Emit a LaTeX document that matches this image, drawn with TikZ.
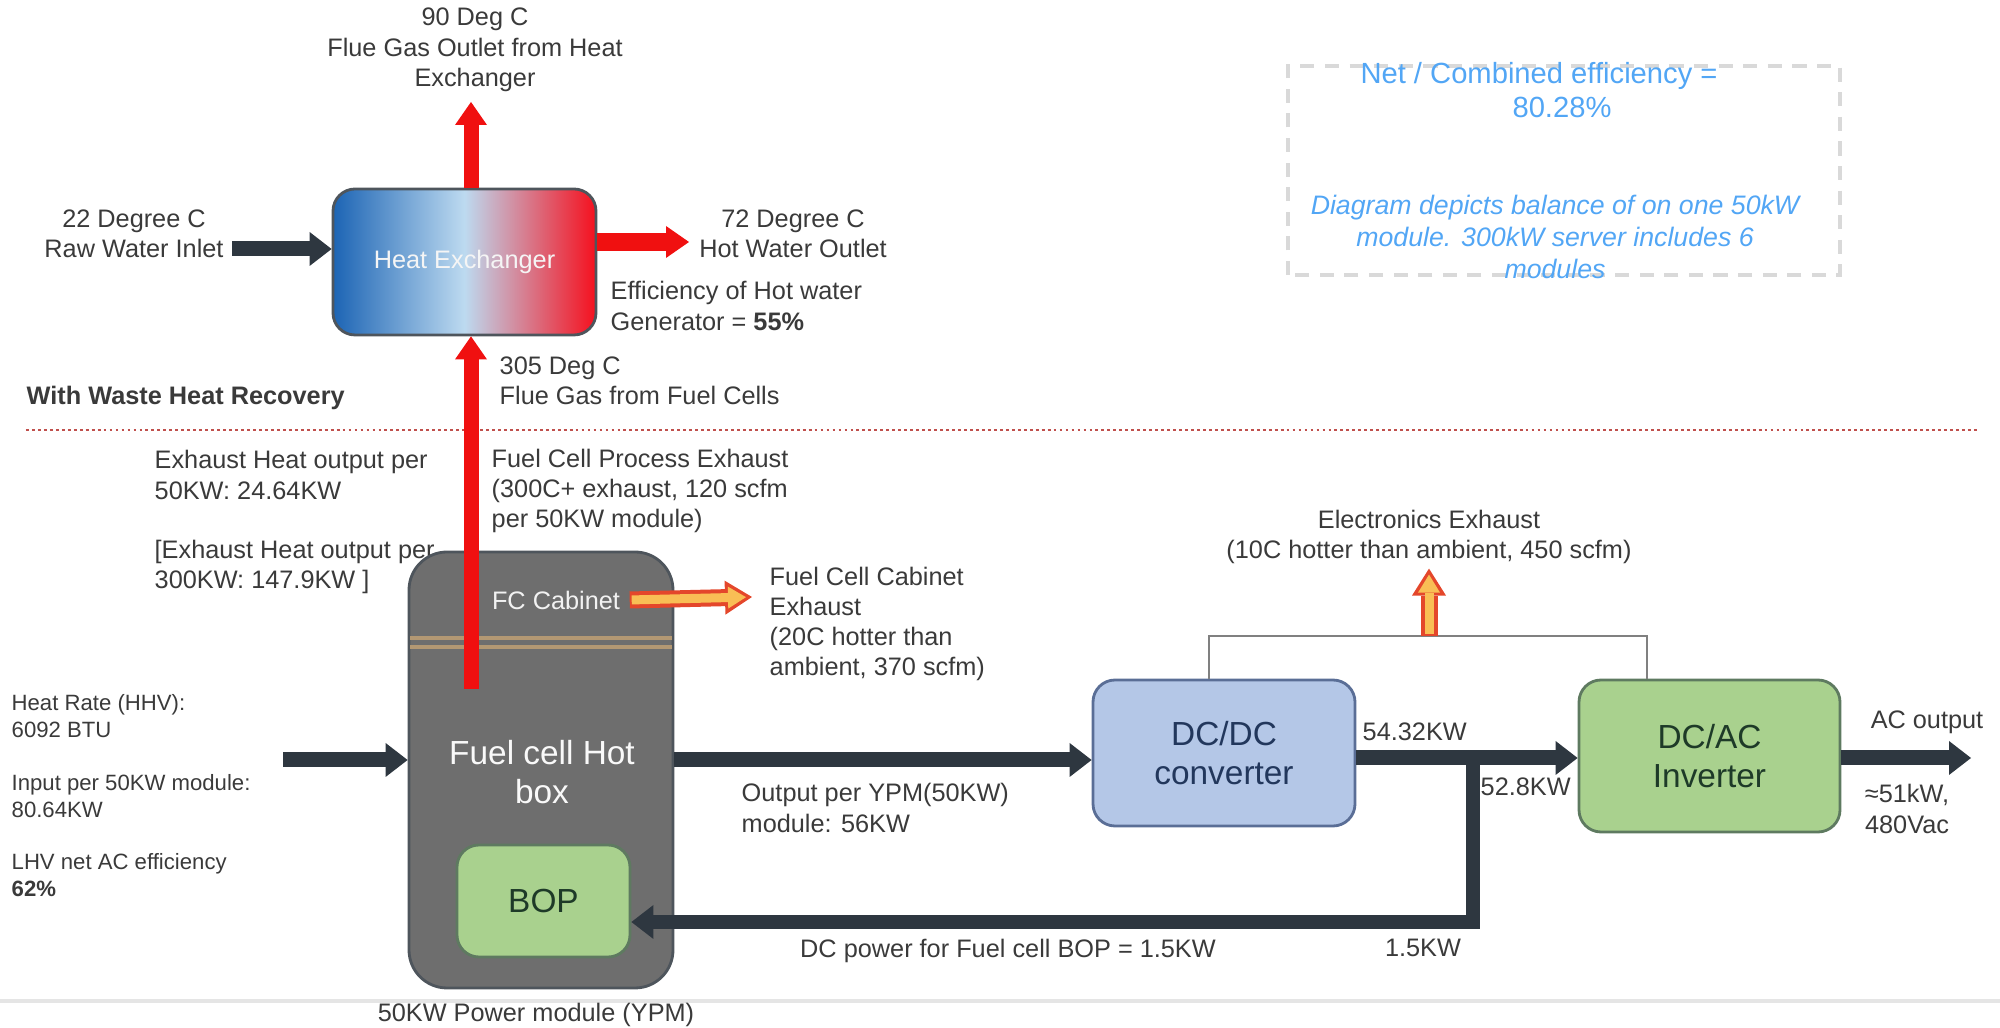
\documentclass[tikz,border=0pt]{standalone}
\usepackage{fontspec}
\setmainfont{Liberation Sans}
\usepackage{tikz}
\usetikzlibrary{arrows.meta, positioning, calc}

\definecolor{txt}{HTML}{3A3A3A}
\definecolor{flow}{HTML}{2E3740}
\definecolor{hot}{HTML}{F01010}
\definecolor{hxblue}{HTML}{1C64B4}
\definecolor{hxmid}{HTML}{BDDAF0}
\definecolor{hxred}{HTML}{F5101E}
\definecolor{boxgray}{HTML}{6E6E6E}
\definecolor{boxedge}{HTML}{4E555C}
\definecolor{cabline}{HTML}{B39873}
\definecolor{bopgreen}{HTML}{A9D18E}
\definecolor{greenedge}{HTML}{5E7A60}
\definecolor{greentext}{HTML}{1E3A28}
\definecolor{dcblue}{HTML}{B4C7E7}
\definecolor{blueedge}{HTML}{5A6E96}
\definecolor{bluetext}{HTML}{22375C}
\definecolor{exhedge}{HTML}{E4472B}
\definecolor{exhfill}{HTML}{F9BE55}
\definecolor{sky}{HTML}{52A6F5}
\definecolor{sepred}{HTML}{C0504D}

\begin{document}
\begin{tikzpicture}[
    lbl/.style={font=\fontsize{7.2}{8.6}\selectfont, text=txt, inner sep=0pt, align=left},
    clbl/.style={lbl, align=center},
    small/.style={font=\fontsize{6.3}{7.6}\selectfont, text=txt, inner sep=0pt, align=left},
    unit/.style={draw, rounded corners=0.22cm, line width=0.8pt, inner sep=0pt, align=center, font=\fontsize{9.5}{11.3}\selectfont},
    flowarrow/.style={draw=flow, line width=0.15cm, -{Triangle[length=0.22cm, width=0.34cm, line width=0pt]}},
    hotarrow/.style={draw=hot, line width=0.15cm, -{Triangle[length=0.23cm, width=0.32cm, line width=0pt]}},
    exharrow/.style={draw=exhedge, line width=0.17cm, -{Triangle[length=0.27cm, width=0.34cm, line width=0pt]},
        postaction={draw=exhfill, line width=0.09cm, shorten >=0.06cm, shorten <=0.02cm, -{Triangle[length=0.18cm, width=0.22cm, line width=0pt]}}},
    notebox/.style={draw=gray!30, line width=1.1pt, dash pattern=on 4pt off 3pt}
]
\useasboundingbox (0,0) rectangle (20,10.28);

\node[unit, left color=hxblue, right color=hxred, middle color=hxmid, draw=boxedge, text=white!92!gray,
    minimum width=2.63cm, minimum height=1.46cm, font=\fontsize{7.2}{8.6}\selectfont] (hx) at (4.645,7.66) {Heat Exchanger};

\coordinate (flueOut) at (4.71,9.26);
\coordinate (rawIn) at (2.32,7.79);
\coordinate (hwOut) at (6.89,7.86);
\coordinate (flueSrc) at (4.71,3.39);

\node[clbl] (flueOutLbl) at (4.75,9.78) {90 Deg C\\Flue Gas Outlet from Heat\\Exchanger};
\node[clbl] (rawLbl) at (1.34,7.94) {22 Degree C\\Raw Water Inlet};
\node[clbl] (hwLbl) at (7.93,7.94) {72 Degree C\\Hot Water Outlet};
\node[lbl, anchor=west] (effLbl) at (6.10,7.22) {Efficiency of Hot water\\Generator = \textbf{55\%}};
\node[lbl, anchor=west] (flueInLbl) at (4.99,6.47) {305 Deg C\\Flue Gas from Fuel Cells};
\node[lbl, anchor=west, font=\bfseries\fontsize{7.2}{8.6}\selectfont] (wasteLbl) at (0.26,6.30) {With Waste Heat Recovery};

\draw[flowarrow] (rawIn) -- (rawIn -| hx.west);
\draw[hotarrow, line width=0.18cm] (hx.east |- hwOut) -- (hwOut);
\draw[hotarrow] (hx.north -| flueOut) -- (flueOut);

\draw[sepred, line width=0.8pt, dash pattern=on 0.8pt off 0.9pt] (0.26,5.98) -- (19.77,5.98);

\draw[notebox] (12.88,7.53) rectangle (18.40,9.62);
\node[align=center, inner sep=0pt, text=sky, font=\fontsize{8.3}{9.6}\selectfont] (effNet) at (15.62,9.38) {Net / Combined efficiency =\hspace*{0.46cm}\\80.28\%};
\node[align=center, inner sep=0pt, text=sky, font=\itshape\fontsize{7.6}{9.1}\selectfont] (note) at (15.55,7.91)
    {Diagram depicts balance of on one 50kW\\module. 300kW server includes 6\\modules};

\node[lbl, anchor=west] (exh50) at (1.54,5.53) {Exhaust Heat output per\\50KW: 24.64KW};
\node[lbl, anchor=west] (exh300) at (1.54,4.61) {[Exhaust Heat output per\\300KW: 147.9KW ]};
\node[lbl, anchor=west] (procLbl) at (4.91,5.37) {Fuel Cell Process Exhaust\\(300C+ exhaust, 120 scfm\\per 50KW module)};

\node[unit, fill=boxgray, draw=boxedge, rounded corners=0.38cm, minimum width=2.64cm, minimum height=4.36cm] (hotbox) at (5.41,2.58) {};
\draw[cabline, line width=1.2pt] (4.10,3.90) -- (6.72,3.90);
\draw[cabline, line width=1.2pt] (4.10,3.81) -- (6.72,3.81);
\node[lbl, text=white!90!gray] (cab) at (5.56,4.28) {FC Cabinet};
\node[clbl, text=white!95!gray, font=\fontsize{9.5}{11.3}\selectfont] (hotLbl) at (5.42,2.56) {Fuel cell Hot\\box};
\node[unit, fill=bopgreen, draw=greenedge, text=greentext, minimum width=1.73cm, minimum height=1.12cm] (bop) at (5.435,1.27) {BOP};

\draw[hotarrow] (flueSrc) -- (flueSrc |- hx.south);

\node[lbl, anchor=west] (cabex) at (7.69,4.04) {Fuel Cell Cabinet\\Exhaust\\(20C hotter than\\ambient, 370 scfm)};
\draw[exharrow] ([xshift=0.09cm]cab.east) -- ([xshift=-0.17cm,yshift=0.03cm]cabex.west |- cab.east);

\node[small, anchor=west] (hhv) at (0.11,3.12) {Heat Rate (HHV):\\6092 BTU};
\node[small, anchor=west] (input) at (0.11,2.32) {Input per 50KW module:\\80.64KW};
\node[small, anchor=west] (lhv) at (0.11,1.53) {LHV net AC efficiency\\\textbf{62\%}};

\node[unit, fill=dcblue, draw=blueedge, text=bluetext, minimum width=2.62cm, minimum height=1.46cm] (dcdc) at (12.24,2.75) {DC/DC\\converter};
\node[unit, fill=bopgreen, draw=greenedge, text=greentext, minimum width=2.61cm, minimum height=1.52cm] (dcac) at (17.095,2.72) {DC/AC\\Inverter};

\coordinate (fuelIn) at (2.83,2.68);
\coordinate (tap) at (14.73,2.70);
\coordinate (bopTap) at (14.73,1.06);
\coordinate (acOut) at (19.71,2.70);
\coordinate (brk) at (14.29,3.92);

\draw[flowarrow] (fuelIn) -- (fuelIn -| hotbox.west);
\draw[flowarrow] (hotbox.east |- fuelIn) -- (dcdc.west |- fuelIn);
\draw[flowarrow] (dcdc.east |- tap) -- (dcac.west |- tap);
\draw[flowarrow] (dcac.east |- acOut) -- (acOut);
\draw[flowarrow, line width=0.14cm, line join=miter] (tap) -- (bopTap) -- (bop.east |- bopTap);

\node[lbl, anchor=west] (outLbl) at (7.41,2.20) {Output per YPM(50KW)\\module: 56KW};
\node[lbl, anchor=west] (kwA) at (13.62,2.96) {54.32KW};
\node[lbl, anchor=west] (kwB) at (14.80,2.41) {52.8KW};
\node[clbl] (bopLbl) at (10.08,0.77) {DC power for Fuel cell BOP = 1.5KW};
\node[clbl] (kwC) at (14.23,0.80) {1.5KW};
\node[clbl] (acLbl) at (19.27,3.06) {AC output};
\node[clbl] (acVal) at (19.07,2.19) {≈51kW,\\480Vac};

\node[clbl] (elex) at (14.29,4.91) {Electronics Exhaust\\(10C hotter than ambient, 450 scfm)};
\draw[gray, line width=0.5pt] ([xshift=-0.15cm]dcdc.north) |- (brk) -| ([xshift=-0.625cm]dcac.north);
\draw[exharrow] (brk) -- ([yshift=-0.04cm]elex.south);

\draw[gray!20, line width=1pt] (0,0.27) -- (20,0.27);
\node[clbl] (ypm) at (5.36,0.13) {50KW Power module (YPM)};
\end{tikzpicture}
\end{document}
